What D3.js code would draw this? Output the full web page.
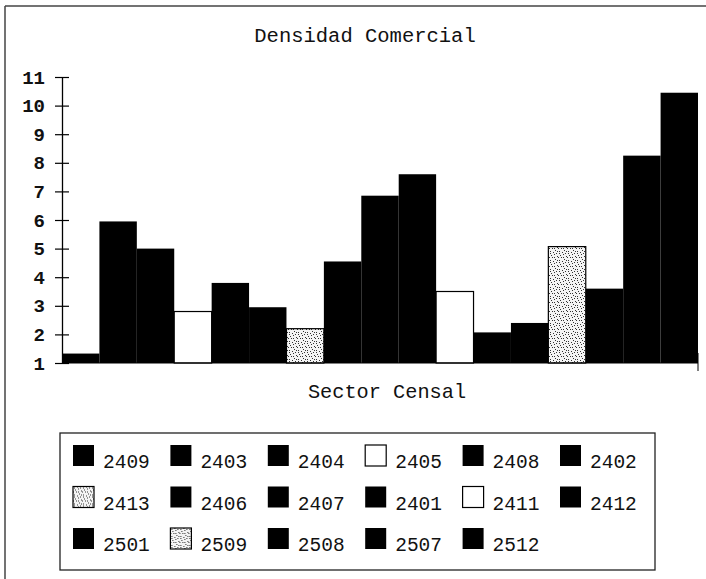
<!DOCTYPE html>
<html>
<head>
<meta charset="utf-8">
<script src="https://cdn.jsdelivr.net/npm/d3@7"></script>
<style>
  html, body { margin: 0; padding: 0; background: #fff; }
  svg { display: block; }
  text { font-family: "Liberation Mono", "DejaVu Sans Mono", monospace; fill: #111; }
</style>
</head>
<body>
<svg id="chart" width="706" height="579"></svg>
<script>
// ---- data ----
const sectors = ["2409","2403","2404","2405","2408","2402","2413","2406","2407","2401","2411","2412","2501","2509","2508","2507","2512"];
const densidad = [1.33, 5.95, 5.0, 2.8, 3.8, 2.95, 2.2, 4.55, 6.85, 7.6, 3.5, 2.07, 2.4, 5.07, 3.6, 8.25, 10.45];
const yTicks = [1,2,3,4,5,6,7,8,9,10,11];
const titleText = "Densidad Comercial";
const xLabel = "Sector Censal";

// ---- style (fill per sector) ----
const whiteSectors = ["2405","2411"];
const stippleSectors = ["2413","2509"];

const svg = d3.select("#chart");
const W = 706, H = 579;
const plot = { left: 62, right: 698, top: 77, bottom: 363 };

// stipple pattern (fixed dot layout)
const defs = svg.append("defs");
const pat = defs.append("pattern").attr("id","stipple").attr("patternUnits","userSpaceOnUse")
  .attr("width", 9).attr("height", 9);
pat.append("rect").attr("width",9).attr("height",9).attr("fill","#f4f4f4");
const dots = [[1,1],[5,2],[8,4],[3,5],[6,7],[1,8],[4,0],[7,1],[2,3],[0,5],[8,8],[5,5]];
pat.selectAll("rect.d").data(dots).join("rect").attr("class","d")
  .attr("x", d => d[0]).attr("y", d => d[1]).attr("width",1).attr("height",1).attr("fill","#333");

function fillFor(s) {
  if (whiteSectors.includes(s)) return "#ffffff";
  if (stippleSectors.includes(s)) return "url(#stipple)";
  return "#000000";
}

// frame (left and top borders)
svg.append("line").attr("x1",5).attr("x2",5).attr("y1",6).attr("y2",H)
  .attr("stroke","#444").attr("stroke-width",1.5);
svg.append("line").attr("x1",5).attr("x2",W).attr("y1",6).attr("y2",6)
  .attr("stroke","#444").attr("stroke-width",1.5);

// title
svg.append("text").attr("x",365).attr("y",42).attr("text-anchor","middle")
  .style("font-size","20.5px").text(titleText);

// scales
const x = d3.scaleBand().domain(sectors).range([plot.left, plot.right]).padding(0);
const y = d3.scaleLinear().domain([1, 11]).range([plot.bottom, plot.top]);

// bars
svg.append("g").selectAll("rect").data(sectors.map((s,i) => ({s, v: densidad[i]}))).join("rect")
  .attr("x", d => x(d.s))
  .attr("y", d => y(d.v))
  .attr("width", x.bandwidth())
  .attr("height", d => y(1) - y(d.v))
  .attr("fill", d => fillFor(d.s))
  .attr("stroke", d => fillFor(d.s) === "#000000" ? "none" : "#000")
  .attr("stroke-width", 1.2);

// baseline
svg.append("line").attr("x1",plot.left).attr("x2",plot.right).attr("y1",plot.bottom).attr("y2",plot.bottom)
  .attr("stroke","#000").attr("stroke-width",1.2);
svg.append("line").attr("x1",plot.right).attr("x2",plot.right).attr("y1",plot.bottom-10).attr("y2",plot.bottom+8)
  .attr("stroke","#000").attr("stroke-width",1);

// y axis
const yAxis = d3.axisLeft(y).tickValues(yTicks).tickFormat(d3.format("d")).tickSize(7).tickSizeOuter(0).tickPadding(10);
const gy = svg.append("g").attr("transform", `translate(${plot.left},0)`).call(yAxis);
gy.select(".domain").attr("stroke","#000").attr("stroke-width",1.3);
gy.selectAll(".tick line").attr("x1",-7).attr("x2",7).attr("stroke","#000").attr("stroke-width",1.2);
gy.selectAll(".tick text").style("font-family","'Liberation Mono', monospace")
  .style("font-size","19px").style("font-weight","bold").attr("fill","#111");

// x label
svg.append("text").attr("x",387).attr("y",398).attr("text-anchor","middle")
  .style("font-size","20.3px").text(xLabel);

// legend
const leg = { left: 60, top: 433, right: 655, bottom: 570 };
svg.append("rect").attr("x",leg.left).attr("y",leg.top)
  .attr("width",leg.right-leg.left).attr("height",leg.bottom-leg.top)
  .attr("fill","none").attr("stroke","#222").attr("stroke-width",1.3);

const cols = 6;
const colX = d3.scaleLinear().domain([0, cols-1]).range([73, 560]);
const rowY = d3.scaleLinear().domain([0, 2]).range([445, 528]);
const items = svg.append("g").selectAll("g").data(sectors).join("g")
  .attr("transform", (d,i) => `translate(${colX(i % cols)},${rowY(Math.floor(i / cols))})`);
items.append("rect").attr("width",21).attr("height",21)
  .attr("fill", d => fillFor(d))
  .attr("stroke", d => fillFor(d) === "#000000" ? "none" : "#000")
  .attr("stroke-width",1.2);
items.append("text").attr("x",30).attr("y",23)
  .style("font-size","19.5px").text(d => d);
</script>
</body>
</html>
